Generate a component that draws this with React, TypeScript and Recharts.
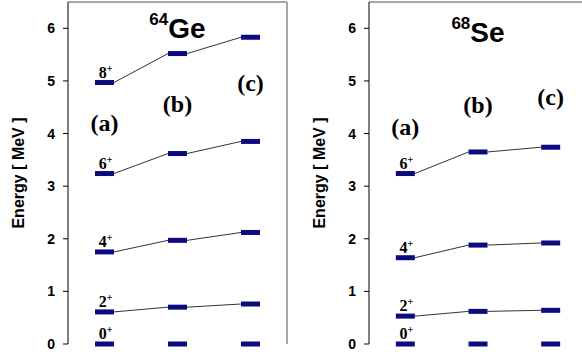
import React from "react";
import { ComposedChart, Line, XAxis, YAxis, ReferenceLine } from "recharts";

// three calculations compared side by side
const MODELS = ["(a)", "(b)", "(c)"];
const MODEL_X = [0.5, 1.5, 2.5];

// 64Ge levels (MeV), one row per spin, one value per model
const GE_SPINS = ["0", "2", "4", "6", "8"];
const GE_LEVELS = [
  [0, 0, 0],
  [0.61, 0.7, 0.76],
  [1.75, 1.97, 2.12],
  [3.24, 3.62, 3.85],
  [4.97, 5.52, 5.83],
];
const GE_TAG_Y = [4.2, 4.56, 4.96];

// 68Se levels (MeV)
const SE_SPINS = ["0", "2", "4", "6"];
const SE_LEVELS = [
  [0, 0, 0],
  [0.53, 0.62, 0.64],
  [1.64, 1.88, 1.92],
  [3.24, 3.65, 3.74],
];
const SE_TAG_Y = [4.13, 4.54, 4.7];

const Y_TICKS = [0, 1, 2, 3, 4, 5, 6];

const BAR = "#0b0b80";
const HALF = 9.5;
const SANS = "'Liberation Sans', Arial, sans-serif";
const SERIF = "'Liberation Serif', 'Times New Roman', serif";

const CH = 358;
const M = { top: 2, right: 3, bottom: 14, left: 28 };
const YW = 40;

function buildRows(levels: number[][], tags: number[]) {
  return MODELS.map((name, i) => {
    const row: any = { x: MODEL_X[i], name, tag: tags[i] };
    levels.forEach((lv, j) => {
      row[`s${j}`] = lv[i];
    });
    return row;
  });
}

const levelDot = (spin: string) => (props: any) => {
  const { cx, cy, index, points } = props;
  const next = points && points[index + 1];
  return (
    <g key={`lv-${spin}-${index}`}>
      {next && spin !== "0" && (
        <line
          x1={cx + HALF}
          y1={cy}
          x2={next.x - HALF}
          y2={next.y}
          stroke="#333"
          strokeWidth={1}
        />
      )}
      <rect x={cx - HALF} y={cy - 2.5} width={HALF * 2} height={5} fill={BAR} />
      {index === 0 && (
        <text
          x={cx + 1}
          y={cy - 5}
          textAnchor="middle"
          fontFamily={SERIF}
          fontWeight="bold"
          fontSize={16}
          fill="#000"
        >
          {spin}
          <tspan dy={-6} fontSize={10}>
            +
          </tspan>
        </text>
      )}
    </g>
  );
};

const tagDot = (props: any) => {
  const { cx, cy, index, payload } = props;
  return (
    <text
      key={`tag-${index}`}
      x={cx}
      y={cy}
      textAnchor="middle"
      dominantBaseline="central"
      fontFamily={SERIF}
      fontWeight="bold"
      fontSize={24}
      fill="#000"
    >
      {payload.name}
    </text>
  );
};

const yTick = (props: any) => {
  const { x, y, payload } = props;
  return (
    <text
      x={x}
      y={y}
      dy="0.36em"
      textAnchor="end"
      fontFamily={SANS}
      fontWeight="bold"
      fontSize={14}
      fill="#000"
    >
      {payload.value}
    </text>
  );
};

function Panel({
  left,
  width,
  spins,
  levels,
  tags,
  mass,
  sym,
  titleY,
}: {
  left: number;
  width: number;
  spins: string[];
  levels: number[][];
  tags: number[];
  mass: string;
  sym: string;
  titleY: number;
}) {
  const rows = buildRows(levels, tags);
  const plotLeft = M.left + YW;
  const plotW = width - plotLeft - M.right;
  return (
    <div style={{ position: "absolute", left, top: 0, width, height: CH }}>
      <ComposedChart width={width} height={CH} data={rows} margin={M}>
        <XAxis
          dataKey="x"
          type="number"
          domain={[0, 3]}
          tick={false}
          tickLine={false}
          axisLine={{ stroke: "#000", strokeWidth: 1 }}
          height={0}
        />
        <YAxis
          type="number"
          domain={[0, 6.5]}
          ticks={Y_TICKS}
          width={YW}
          tickSize={5}
          tickMargin={8}
          axisLine={{ stroke: "#000", strokeWidth: 1 }}
          tickLine={{ stroke: "#000" }}
          tick={yTick}
        />
        <ReferenceLine y={6.5} stroke="#8a8a8a" strokeWidth={1.5} />
        <ReferenceLine x={3} stroke="#8a8a8a" strokeWidth={1.5} />
        {spins.map((s, j) => (
          <Line
            key={s}
            dataKey={`s${j}`}
            stroke="none"
            dot={levelDot(s)}
            activeDot={false}
            legendType="none"
            isAnimationActive={false}
          />
        ))}
        <Line
          dataKey="tag"
          stroke="none"
          dot={tagDot}
          activeDot={false}
          legendType="none"
          isAnimationActive={false}
        />
      </ComposedChart>
      <svg
        width={width}
        height={CH}
        style={{ position: "absolute", left: 0, top: 0, pointerEvents: "none" }}
      >
        <text
          x={plotLeft + plotW / 2}
          y={titleY}
          textAnchor="middle"
          fontFamily={SANS}
          fontWeight="bold"
          fill="#000"
        >
          <tspan fontSize={17} dy={-13}>
            {mass}
          </tspan>
          <tspan fontSize={28} dy={13}>
            {sym}
          </tspan>
        </text>
        <text
          x={18}
          y={173}
          transform={`rotate(-90 18 173)`}
          textAnchor="middle"
          dominantBaseline="central"
          fontFamily={SANS}
          fontWeight="bold"
          fontSize={16}
          fill="#000"
        >
          Energy [ MeV ]
        </text>
      </svg>
    </div>
  );
}

export default function App() {
  return (
    <div
      style={{
        position: "absolute",
        left: 0,
        top: 0,
        width: 582,
        height: CH,
        overflow: "hidden",
        background: "#fff",
      }}
    >
      <Panel
        left={0}
        width={290}
        spins={GE_SPINS}
        levels={GE_LEVELS}
        tags={GE_TAG_Y}
        mass="64"
        sym="Ge"
        titleY={38}
      />
      <Panel
        left={301}
        width={289}
        spins={SE_SPINS}
        levels={SE_LEVELS}
        tags={SE_TAG_Y}
        mass="68"
        sym="Se"
        titleY={42}
      />
    </div>
  );
}
